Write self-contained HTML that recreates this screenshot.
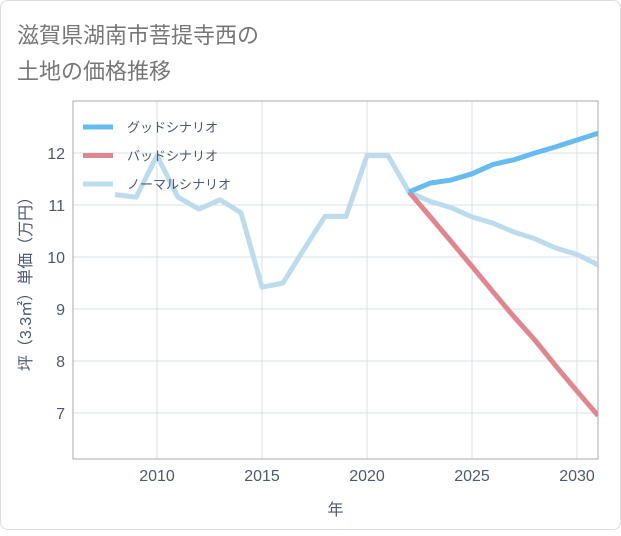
<!DOCTYPE html>
<html><head><meta charset="utf-8"><style>
body{margin:0;background:#fff;font-family:"Liberation Sans","Noto Sans CJK JP",sans-serif;}
#card{position:absolute;left:0;top:0;width:619px;height:528px;border:1px solid #ddd;border-radius:8px;background:#fff;}
</style></head><body>
<div id="card">
<svg id="chart" width="621" height="530">
<text x="16" y="42" font-size="22" fill="#777">滋賀県湖南市菩提寺西の</text>
<text x="16" y="78" font-size="22" fill="#777">土地の価格推移</text>
</svg>
</div>
<script>
const years=[2008,2009,2010,2011,2012,2013,2014,2015,2016,2017,2018,2019,2020,2021,2022,2023,2024,2025,2026,2027,2028,2029,2030,2031];
const normal=[11.2,11.15,11.95,11.15,10.92,11.1,10.85,9.42,9.5,10.15,10.78,10.78,11.95,11.95,11.25,11.07,10.95,10.77,10.65,10.48,10.35,10.17,10.05,9.85];
const goodYears=[2022,2023,2024,2025,2026,2027,2028,2029,2030,2031];
const good=[11.25,11.42,11.48,11.6,11.78,11.87,12.0,12.12,12.25,12.38];
const bad=[11.25,10.78,10.3,9.82,9.33,8.85,8.4,7.9,7.42,6.95];
const xTicks=[2010,2015,2020,2025,2030];
const yTicks=[7,8,9,10,11,12];
const legendLabels=["グッドシナリオ","バッドシナリオ","ノーマルシナリオ"];
const colors=["#66bbf0","#e0868e","#bcdcee"];
const L=72,R=597,T=100,B=458;
const xs=v=>L+(v-2006)*(R-L)/25;
const ys=v=>T+(13-v)*(B-T)/(13-6.115);
const svg=document.getElementById('chart');
const NS="http://www.w3.org/2000/svg";
function mk(tag,attrs,parent){const e=document.createElementNS(NS,tag);for(const k in attrs)e.setAttribute(k,attrs[k]);(parent||svg).appendChild(e);return e;}
const grid=mk('g',{});


xTicks.forEach(t=>{
 const l=mk('line',{x1:xs(t),x2:xs(t),y1:T,y2:B,stroke:'#d5e0ea','stroke-width':1},grid);
 
 
 const tx=mk('text',{x:xs(t),y:B+22,'font-size':16,fill:'#4a5a70','text-anchor':'middle'});
 tx.textContent=t;
 
 
});
yTicks.forEach(t=>{
 const l=mk('line',{x1:L,x2:R,y1:ys(t),y2:ys(t),stroke:'#d5e0ea','stroke-width':1},grid);
 
 
 const tx=mk('text',{x:L-8,y:ys(t)+6,'font-size':16,fill:'#4a5a70','text-anchor':'end'});
 tx.textContent=t;
 
 
});
const frame=mk('rect',{x:L,y:T,width:R-L,height:B-T,fill:'none',stroke:'#aaa','stroke-width':1});


const clip=mk('clipPath',{id:'cp'});mk('rect',{x:L,y:T,width:R-L,height:B-T},clip);
function line(xv,yv,c,name){
 const p=mk('polyline',{points:xv.map((x,i)=>xs(x)+','+ys(yv[i])).join(' '),fill:'none',stroke:c,'stroke-width':5,'stroke-linejoin':'round','clip-path':'url(#cp)'});
 
 
}
line(years,normal,colors[2],'normal-scenario-line');
line(goodYears,bad,colors[1],'bad-scenario-line');
line(goodYears,good,colors[0],'good-scenario-line');
legendLabels.forEach((lab,i)=>{
 const y=126+i*28.5;
 const s=mk('line',{x1:82,x2:112,y1:y,y2:y,stroke:colors[i],'stroke-width':5});
 
 
 const t=mk('text',{x:126,y:y+5,'font-size':13,fill:'#4a5a70'});
 t.textContent=lab;
 
 
});
const xt=mk('text',{x:(L+R)/2,y:514,'font-size':16,fill:'#4a5a70','text-anchor':'middle'});
xt.textContent='年';


const yt=mk('text',{x:0,y:0,'font-size':16,fill:'#4a5a70','text-anchor':'middle',transform:`translate(30,${(T+B)/2}) rotate(-90)`});
yt.textContent='坪（3.3㎡）単価（万円）';


</script>
</body></html>
